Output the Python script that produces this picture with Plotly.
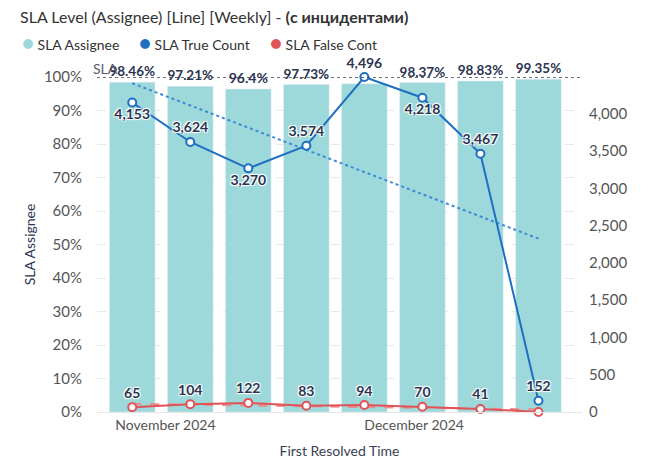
import numpy as np
import plotly.graph_objects as go

weeks = ["2024-10-28", "2024-11-04", "2024-11-11", "2024-11-18",
         "2024-11-25", "2024-12-02", "2024-12-09", "2024-12-16"]
sla_assignee = [0.9846, 0.9721, 0.964, 0.9773, 0.9795, 0.9837, 0.9883, 0.9935]
sla_true = [4153, 3624, 3270, 3574, 4496, 4218, 3467, 152]
sla_false = [65, 104, 122, 83, 94, 70, 41, 1]
show_bar_label = [True, True, True, True, False, True, True, True]
show_false_label = [True, True, True, True, True, True, True, False]
true_label_pos = ["bottom center", "top center", "bottom center", "top center",
                  "top center", "bottom center", "top center", "top center"]
legend_names = ["SLA Assignee", "SLA True Count", "SLA False Cont"]

FONT = "Lato"
NAVY = "#2b3452"
TEAL = "#9dd8da"
BLUE = "#1f6fc2"
RED = "#e05356"
SHADOW = "1px 1px 1px #fff, -1px -1px 1px #fff, 1px -1px 1px #fff, -1px 1px 1px #fff"
W, H = 650, 466
ML, MR, MT, MB = 97, 68, 77, 54


def pct(v):
    s = f"{v*100:.2f}".rstrip("0").rstrip(".")
    return s + "%"


bar_text = [pct(v) if s else "" for v, s in zip(sla_assignee, show_bar_label)]
false_text = [f"{v:,}" if s else "" for v, s in zip(sla_false, show_false_label)]
true_text = [f"{v:,}" for v in sla_true]

idx = np.arange(len(weeks))
true_trend = np.polyval(np.polyfit(idx, sla_true, 1), idx)
false_trend = np.polyval(np.polyfit(idx, sla_false, 1), idx)

LABEL_FONT = dict(family=FONT, size=14, color=NAVY, weight="bold", shadow=SHADOW)
TICK_FONT = dict(family=FONT, size=15, color="#555")

fig = go.Figure()

fig.add_trace(go.Bar(
    x=weeks, y=sla_assignee, name=legend_names[0], marker_color=TEAL,
    width=5.5 * 86400000, text=bar_text, textposition="outside",
    cliponaxis=False, textfont=LABEL_FONT,
))
fig.add_trace(go.Scatter(
    x=weeks, y=true_trend, yaxis="y2", mode="lines", hoverinfo="skip",
    line=dict(color="#3d8bd6", width=2, dash="dot"),
))
fig.add_trace(go.Scatter(
    x=weeks, y=false_trend, yaxis="y2", mode="lines", hoverinfo="skip",
    line=dict(color="#ee8a8c", width=2, dash="dash"),
))
fig.add_trace(go.Scatter(
    x=weeks, y=sla_true, yaxis="y2", mode="lines+markers+text",
    name=legend_names[1], cliponaxis=False,
    line=dict(color=BLUE, width=2),
    marker=dict(symbol="circle", size=8, color="white", line=dict(color=BLUE, width=2)),
    text=true_text, textposition=true_label_pos, textfont=LABEL_FONT,
))
fig.add_trace(go.Scatter(
    x=weeks, y=sla_false, yaxis="y2", mode="lines+markers+text",
    name=legend_names[2], cliponaxis=False,
    line=dict(color=RED, width=2),
    marker=dict(symbol="circle", size=8, color="white", line=dict(color=RED, width=2)),
    text=false_text, textposition="top center", textfont=LABEL_FONT,
))

# reference line at 100%
fig.add_shape(type="line", xref="paper", yref="y", x0=0, x1=1, y0=1, y1=1,
              line=dict(color="#3a3f4f", width=1.5, dash="dot"), layer="above")
fig.add_annotation(xref="paper", yref="y", x=0, y=1, text="SLA", showarrow=False,
                   xanchor="left", yanchor="bottom", xshift=-6, yshift=-2,
                   font=dict(family=FONT, size=14, color="#555b6e"))

# legend drawn as annotations (circle swatches)
legend_x = [20, 137, 268]
for nm, col, lx in zip(legend_names, [TEAL, BLUE, RED], legend_x):
    fig.add_annotation(
        xref="paper", yref="paper", x=(lx - ML) / (W - ML - MR), y=1 + (MT - 42) / (H - MT - MB),
        xanchor="left", yanchor="middle", showarrow=False,
        text=f"<span style='color:{col};font-size:20px'>●</span> {nm}",
        font=dict(family=FONT, size=14, color="#333"),
    )

fig.update_layout(
    width=W, height=H,
    margin=dict(l=ML, r=MR, t=MT, b=MB, autoexpand=False),
    paper_bgcolor="white", plot_bgcolor="white",
    font=dict(family=FONT, color="#333"),
    showlegend=False,
    title=dict(text="SLA Level (Assignee) [Line] [Weekly] - <b>(с инцидентами)</b>",
               x=20 / W, xref="container", xanchor="left",
               y=1 - 17 / H, yref="container", yanchor="middle",
               font=dict(family=FONT, size=16, color="#333")),
    xaxis=dict(
        type="date", range=["2024-10-23 18:00", "2024-12-21 06:00"],
        dtick="M1", tick0="2024-11-01", tickformat="%B %Y", automargin=False,
        showgrid=False, showline=True, linecolor="#e6e6e6", ticks="",
        tickfont=dict(family=FONT, size=14, color="#555"),
        title=dict(text="First Resolved Time", font=dict(family=FONT, size=14, color="#3a3f55"),
                   standoff=14),
    ),
    yaxis=dict(
        range=[0, 1], dtick=0.1, tickformat=".0%", automargin=False,
        showgrid=True, gridcolor="#e8e8e8", griddash="dash", zeroline=False,
        ticklabelstandoff=14, tickfont=TICK_FONT,
        title=dict(text="SLA Assignee", font=dict(family=FONT, size=14, color=NAVY), standoff=4),
    ),
    yaxis2=dict(
        overlaying="y", side="right", range=[0, max(sla_true)], automargin=False,
        dtick=500, tickformat=",", showgrid=False, zeroline=False,
        ticklabelstandoff=6, tickfont=TICK_FONT,
    ),
)

fig.write_html("out.html", config={"displayModeBar": False},
               post_script="document.body.style.margin='0';document.body.style.overflow='hidden';")
